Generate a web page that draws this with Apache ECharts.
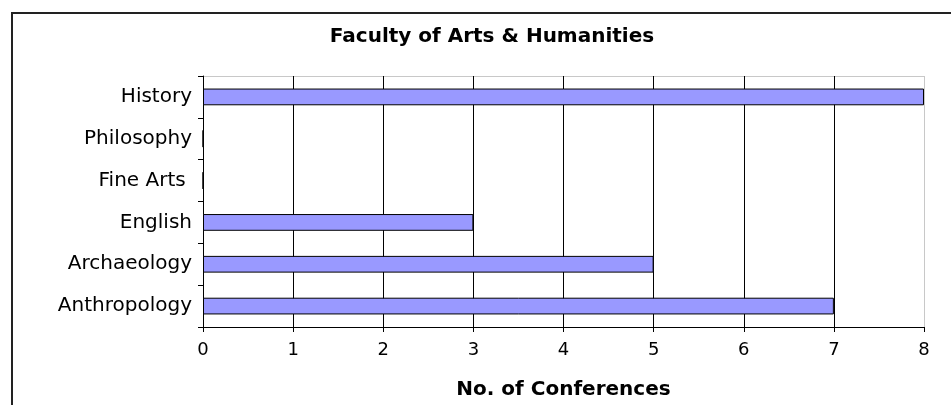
<!DOCTYPE html>
<html>
<head>
<meta charset="utf-8">
<script src="https://cdn.jsdelivr.net/npm/echarts@6/dist/echarts.min.js"></script>
<style>
  html, body { margin: 0; padding: 0; background: #fff; }
  #chart { position: absolute; left: 0; top: 0; width: 951px; height: 405px; }
</style>
</head>
<body>
<div id="chart"></div>
<script>
// departments, bottom to top
var departments = ['Anthropology', 'Archaeology', 'English', 'Fine Arts ', 'Philosophy', 'History'];
var conferences = [7, 5, 3, 0, 0, 8];
var xTicks = [0, 1, 2, 3, 4, 5, 6, 7, 8];

var myChart = echarts.init(document.getElementById('chart'));
var font = 'DejaVu Sans, Liberation Sans, Arial, sans-serif';

// gridlines black, the one at the max end is the light plot border
var gridColors = xTicks.map(function (t, i) { return i === xTicks.length - 1 ? '#c8c8c8' : '#000'; });

var option = {
  animation: false,
  title: {
    text: 'Faculty of Arts & Humanities',
    left: 487,
    textAlign: 'center',
    top: 22,
    textStyle: { fontFamily: font, fontSize: 20, fontWeight: 'bold', color: '#000' }
  },
  grid: { left: 203, right: 27, top: 76, bottom: 76 },
  xAxis: {
    type: 'value',
    min: xTicks[0],
    max: xTicks[xTicks.length - 1],
    interval: 1,
    name: 'No. of Conferences',
    nameLocation: 'middle',
    nameGap: 53,
    nameTextStyle: { fontFamily: font, fontSize: 20, fontWeight: 'bold', color: '#000' },
    axisLine: { show: true, lineStyle: { color: '#000', width: 1 } },
    axisTick: { show: true, length: 5, lineStyle: { color: '#000' } },
    axisLabel: { fontFamily: font, fontSize: 18, color: '#000', margin: 14 },
    splitLine: { show: true, lineStyle: { color: gridColors, width: 1 } }
  },
  yAxis: {
    type: 'category',
    data: departments,
    axisLine: { show: true, lineStyle: { color: '#000', width: 1 } },
    axisTick: { show: true, length: 5, lineStyle: { color: '#000' } },
    axisLabel: { fontFamily: font, fontSize: 20, color: '#000', margin: 11 },
    splitLine: { show: false }
  },
  graphic: [{
    type: 'rect',
    shape: { x: 12, y: 13, width: 960, height: 420 },
    style: { stroke: '#222', lineWidth: 2, fill: null },
    silent: true
  }, {
    type: 'line',
    shape: { x1: 203, y1: 76.5, x2: 924, y2: 76.5 },
    style: { stroke: '#c8c8c8', lineWidth: 1 },
    z: 0,
    silent: true
  }],
  series: [{
    type: 'bar',
    data: conferences,
    barWidth: '40%',
    itemStyle: { color: '#9999ff', borderColor: '#000', borderWidth: 1 }
  }]
};
myChart.setOption(option);
</script>
</body>
</html>
